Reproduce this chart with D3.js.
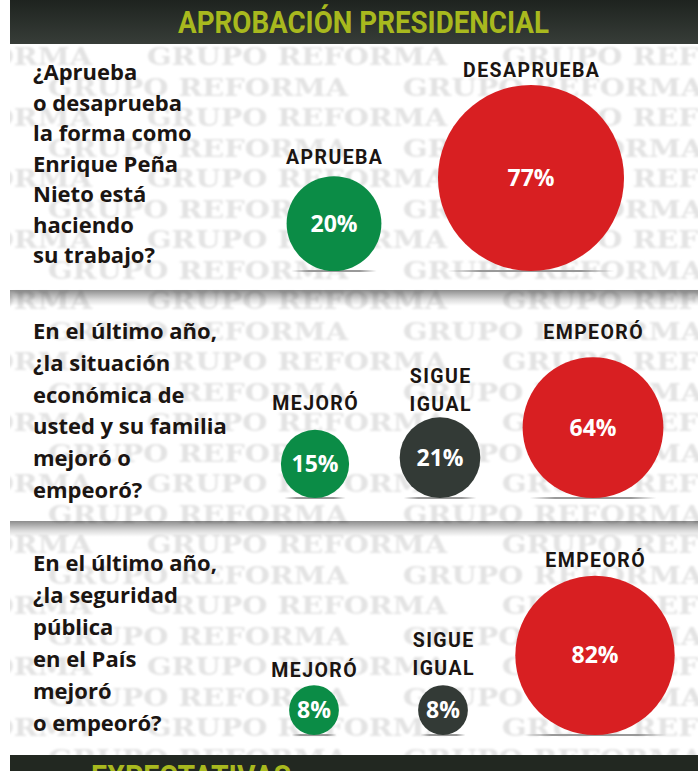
<!DOCTYPE html>
<html>
<head>
<meta charset="UTF-8">
<title>Aprobación presidencial</title>
<style>
  body { margin: 0; background: #fff; }
  svg { display: block; }
  .q { font-family: "Open Sans", sans-serif; font-weight: 700; font-size: 22px; fill: #1b1512; }
  .lab { font-family: Roboto, sans-serif; font-weight: 700; font-size: 19.5px; fill: #1b1512; letter-spacing: 1.4px; }
  .pct { font-family: "Open Sans", sans-serif; font-weight: 700; font-size: 23px; fill: #fff; }
  .wm { font-family: "DejaVu Serif", serif; font-weight: 700; font-size: 25px; fill: #e3e3e3; }
  .head { font-family: Roboto, sans-serif; font-weight: 700; font-size: 31px; fill: #a8b91e; }
</style>
</head>
<body>
<div id="chart"></div>
<script src="https://cdnjs.cloudflare.com/ajax/libs/d3/7.8.5/d3.min.js"></script>
<script>
// data
const title = "APROBACIÓN PRESIDENCIAL";
const nextTitle = "EXPECTATIVAS";
const watermark = "GRUPO REFORMA";

const q1Lines = ["¿Aprueba", "o desaprueba", "la forma como", "Enrique Peña", "Nieto está", "haciendo", "su trabajo?"];
const q1Labels = ["APRUEBA", "DESAPRUEBA"];
const q1Values = [20, 77];

const q2Lines = ["En el último año,", "¿la situación", "económica de", "usted y su familia", "mejoró o", "empeoró?"];
const q2Labels = ["MEJORÓ", "SIGUE IGUAL", "EMPEORÓ"];
const q2Values = [15, 21, 64];

const q3Lines = ["En el último año,", "¿la seguridad", "pública", "en el País", "mejoró", "o empeoró?"];
const q3Labels = ["MEJORÓ", "SIGUE IGUAL", "EMPEORÓ"];
const q3Values = [8, 8, 82];

// layout
const width = 698, height = 771, left = 10;

const color = d3.scaleOrdinal()
  .domain(["APRUEBA", "DESAPRUEBA", "MEJORÓ", "SIGUE IGUAL", "EMPEORÓ"])
  .range(["#0b8c46", "#d81f22", "#0b8c46", "#333a36", "#d81f22"]);

const panels = [
  { lines: q1Lines, labels: q1Labels, values: q1Values,
    lineY: 80, pitch: 30.5, base: 271, rMax: 106,
    cx: [334, 531], labelY: [164, 77] },
  { lines: q2Lines, labels: q2Labels, values: q2Values,
    lineY: 339, pitch: 31.8, base: 498, rMax: 88,
    cx: [315, 440, 593], labelY: [410, 411, 339] },
  { lines: q3Lines, labels: q3Labels, values: q3Values,
    lineY: 571, pitch: 32, base: 735, rMax: 88,
    cx: [314, 443, 595], labelY: [677, 675, 567] }
];

const svg = d3.select("#chart").append("svg")
  .attr("width", width)
  .attr("height", height);

const defs = svg.append("defs");

const hg = defs.append("linearGradient").attr("id", "headGrad")
  .attr("x1", 0).attr("y1", 0).attr("x2", 0).attr("y2", 1);
hg.append("stop").attr("offset", "0%").attr("stop-color", "#1e231f");
hg.append("stop").attr("offset", "100%").attr("stop-color", "#373d38");

const sg = defs.append("linearGradient").attr("id", "sepGrad")
  .attr("x1", 0).attr("y1", 0).attr("x2", 0).attr("y2", 1);
sg.append("stop").attr("offset", "0%").attr("stop-color", "#000").attr("stop-opacity", 0.45);
sg.append("stop").attr("offset", "60%").attr("stop-color", "#000").attr("stop-opacity", 0.14);
sg.append("stop").attr("offset", "100%").attr("stop-color", "#000").attr("stop-opacity", 0);

const fg = defs.append("linearGradient").attr("id", "floorGrad")
  .attr("x1", 0).attr("y1", 0).attr("x2", 1).attr("y2", 0);
fg.append("stop").attr("offset", "0%").attr("stop-color", "#999").attr("stop-opacity", 0);
fg.append("stop").attr("offset", "20%").attr("stop-color", "#999").attr("stop-opacity", 1);
fg.append("stop").attr("offset", "80%").attr("stop-color", "#999").attr("stop-opacity", 1);
fg.append("stop").attr("offset", "100%").attr("stop-color", "#999").attr("stop-opacity", 0);

defs.append("filter").attr("id", "soft")
  .append("feGaussianBlur").attr("stdDeviation", 1);
defs.append("clipPath").attr("id", "body")
  .append("rect").attr("x", left).attr("y", 44).attr("width", width - left).attr("height", 711);

// watermark rows
const wm = svg.append("g").attr("clip-path", "url(#body)")
  .append("g").attr("filter", "url(#soft)");
const period = 355;
d3.range(0, 24).forEach(i => {
  const y = 65 + i * 30.5;
  const off = i % 2 === 0 ? 147 : 48;
  d3.range(-2, 3).forEach(k => {
    wm.append("text").attr("class", "wm")
      .attr("x", off + k * period)
      .attr("y", y)
      .attr("textLength", 300)
      .attr("lengthAdjust", "spacingAndGlyphs")
      .text(watermark);
  });
});

// panel separators (shadow)
[290, 521].forEach(y => {
  svg.append("rect")
    .attr("x", left).attr("y", y)
    .attr("width", width - left).attr("height", 16)
    .attr("fill", "url(#sepGrad)");
});

// header
svg.append("rect")
  .attr("x", left).attr("y", 0)
  .attr("width", width - left).attr("height", 44)
  .attr("fill", "url(#headGrad)");
svg.append("text").attr("class", "head")
  .attr("x", 178).attr("y", 33)
  .attr("textLength", 371)
  .attr("lengthAdjust", "spacingAndGlyphs")
  .text(title);

// next section header (cut)
svg.append("rect")
  .attr("x", left).attr("y", 755)
  .attr("width", width - left).attr("height", 16)
  .attr("fill", "#222821");
svg.append("text").attr("class", "head")
  .attr("x", 91).attr("y", 787)
  .attr("textLength", 200)
  .attr("lengthAdjust", "spacingAndGlyphs")
  .text(nextTitle);

// panels
panels.forEach(p => {
  const g = svg.append("g");

  g.selectAll("text.q")
    .data(p.lines)
    .join("text")
    .attr("class", "q")
    .attr("x", 33)
    .attr("y", (d, i) => p.lineY + i * p.pitch)
    .text(d => d);

  const r = d3.scaleSqrt().domain([0, 100]).range([0, p.rMax]);
  const x = d3.scaleOrdinal().domain(p.labels).range(p.cx);
  const ly = d3.scaleOrdinal().domain(p.labels).range(p.labelY);
  const rows = p.labels.map((l, i) => ({ label: l, value: p.values[i] }));

  g.selectAll("rect.floor")
    .data(rows)
    .join("rect")
    .attr("class", "floor")
    .attr("x", d => x(d.label) - r(d.value) * 0.9)
    .attr("y", p.base - 1)
    .attr("width", d => r(d.value) * 1.8)
    .attr("height", 2)
    .attr("fill", "url(#floorGrad)");

  g.selectAll("circle")
    .data(rows)
    .join("circle")
    .attr("cx", d => x(d.label))
    .attr("cy", d => p.base - r(d.value))
    .attr("r", d => r(d.value))
    .attr("fill", d => color(d.label));

  g.selectAll("text.pct")
    .data(rows)
    .join("text")
    .attr("class", "pct")
    .attr("x", d => x(d.label))
    .attr("y", d => p.base - r(d.value) + 8)
    .attr("text-anchor", "middle")
    .text(d => d.value + "%");

  rows.forEach(d => {
    const words = d.label.split(" ");
    const t = g.append("text").attr("class", "lab")
      .attr("text-anchor", "middle");
    words.forEach((w, i) => {
      t.append("tspan")
        .attr("x", x(d.label) + 0.7)
        .attr("y", ly(d.label) - (words.length - 1 - i) * 28)
        .text(w);
    });
  });
});
</script>
</body>
</html>
